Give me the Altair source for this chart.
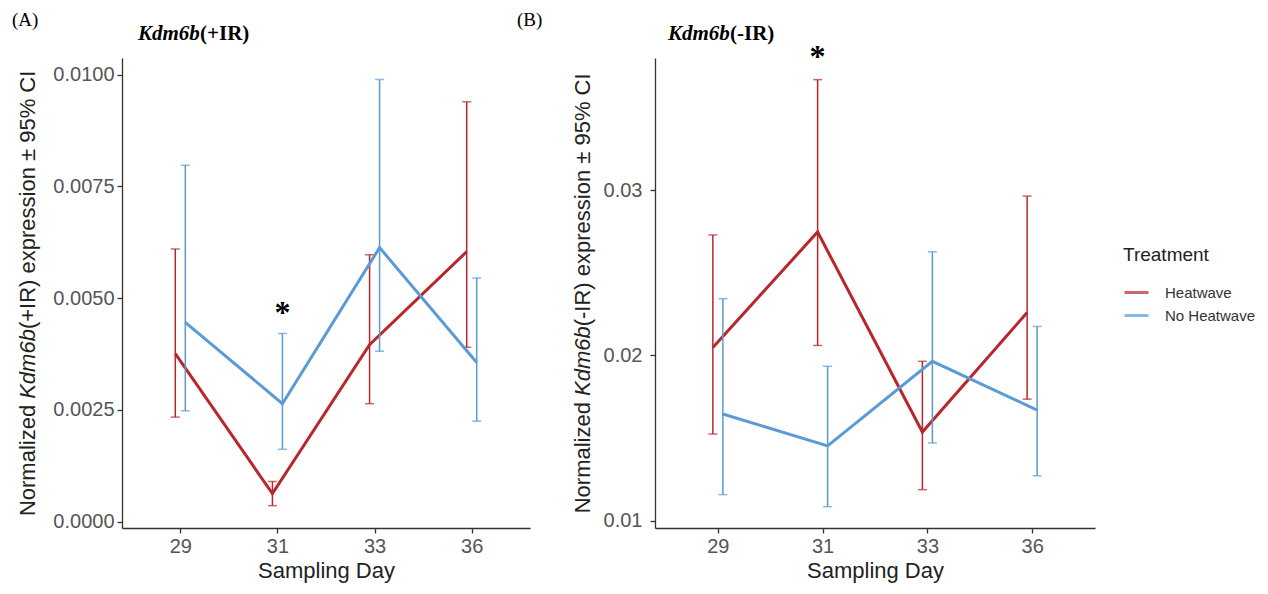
import altair as alt
import pandas as pd

days = ["29", "31", "33", "36"]
treatments = ["Heatwave", "No Heatwave"]
colors = ["#B8272C", "#5B9BD5"]

# Panel A: Kdm6b(+IR)
a_heat_mean = [0.00376, 0.00063, 0.00396, 0.00604]
a_heat_lo = [0.00234, 0.00036, 0.00264, 0.00390]
a_heat_hi = [0.00610, 0.00090, 0.00597, 0.00939]
a_noheat_mean = [0.00446, 0.00264, 0.00613, 0.00356]
a_noheat_lo = [0.00248, 0.00162, 0.00381, 0.00225]
a_noheat_hi = [0.00797, 0.00421, 0.00989, 0.00545]

# Panel B: Kdm6b(-IR)
b_heat_mean = [0.02048, 0.02747, 0.01536, 0.02259]
b_heat_lo = [0.01524, 0.02060, 0.01187, 0.01735]
b_heat_hi = [0.02729, 0.03669, 0.01964, 0.02964]
b_noheat_mean = [0.01645, 0.01452, 0.01964, 0.01669]
b_noheat_lo = [0.01157, 0.01084, 0.01470, 0.01271]
b_noheat_hi = [0.02343, 0.01934, 0.02627, 0.02175]

# significance markers
a_star_day = ["31"]
a_star_treatment = ["No Heatwave"]
a_star_value = [0.00480]
b_star_day = ["31"]
b_star_treatment = ["Heatwave"]
b_star_value = [0.03840]

a_ticks = [0.0, 0.0025, 0.005, 0.0075, 0.01]
b_ticks = [0.01, 0.02, 0.03]

panel_letters = ["(A)", "(B)"]
a_ytitle_parts = ["Normalized", "Kdm6b", "(+IR) expression ± 95% CI"]
b_ytitle_parts = ["Normalized", "Kdm6b", "(-IR) expression ± 95% CI"]


def make_df(hm, hl, hh, nm, nl, nh):
    rows = []
    for i, d in enumerate(days):
        rows.append({"day": d, "treatment": "Heatwave", "mean": hm[i], "lo": hl[i], "hi": hh[i]})
    for i, d in enumerate(days):
        rows.append({"day": d, "treatment": "No Heatwave", "mean": nm[i], "lo": nl[i], "hi": nh[i]})
    return pd.DataFrame(rows)


df_a = make_df(a_heat_mean, a_heat_lo, a_heat_hi, a_noheat_mean, a_noheat_lo, a_noheat_hi)
df_b = make_df(b_heat_mean, b_heat_lo, b_heat_hi, b_noheat_mean, b_noheat_lo, b_noheat_hi)
star_a = pd.DataFrame({"day": a_star_day, "treatment": a_star_treatment, "value": a_star_value})
star_b = pd.DataFrame({"day": b_star_day, "treatment": b_star_treatment, "value": b_star_value})

offsets = {"Heatwave": -5, "No Heatwave": 5}


def panel(df, star, domain, ticks, fmt, width, height, ytitle_parts, ytitle_x, ytitle_y,
          letters, gene, suffix, show_legend, label_pad, gene_x, suffix_x):
    x = alt.X("day:O", sort=days,
              scale=alt.Scale(type="point", padding=0.6),
              axis=alt.Axis(title="Sampling Day", labelAngle=0))
    yscale = alt.Scale(domain=domain, nice=False, zero=False)
    if show_legend:
        leg = alt.Legend(title="Treatment", orient="none", legendX=468, legendY=188,
                         symbolType="stroke", symbolStrokeWidth=3, symbolSize=576,
                         labelFontSize=15, titleFontSize=19, titleFontWeight="normal",
                         labelFont="Liberation Sans", titleFont="Liberation Sans",
                         labelColor="#333333", titleColor="#222222",
                         titlePadding=14, labelOffset=15, rowPadding=1)
    else:
        leg = None
    color = alt.Color("treatment:N", scale=alt.Scale(domain=treatments, range=colors), legend=leg)
    layers = []
    for t in treatments:
        off = offsets[t]
        sub = alt.Chart(df).transform_filter(alt.datum.treatment == t)
        layers.append(sub.mark_rule(strokeWidth=1.5, xOffset=off).encode(
            x=x,
            y=alt.Y("lo:Q", scale=yscale,
                    axis=alt.Axis(title=None, values=ticks, format=fmt, labelPadding=label_pad)),
            y2="hi:Q", color=color))
        layers.append(sub.mark_tick(thickness=1.5, size=9, xOffset=off).encode(
            x=x, y=alt.Y("lo:Q", scale=yscale), color=color))
        layers.append(sub.mark_tick(thickness=1.5, size=9, xOffset=off).encode(
            x=x, y=alt.Y("hi:Q", scale=yscale), color=color))
        layers.append(sub.mark_line(strokeWidth=3, xOffset=off).encode(
            x=x, y=alt.Y("mean:Q", scale=yscale), color=color))
    for t in treatments:
        s = alt.Chart(star).transform_filter(alt.datum.treatment == t).mark_text(
            text="*", fontSize=32, font="Liberation Serif", fontWeight="bold",
            color="black", baseline="middle", dy=6, xOffset=offsets[t]).encode(
            x=x, y=alt.Y("value:Q", scale=yscale))
        layers.append(s)
    # y-axis title built from parts so the gene name can be italic
    tdf = pd.DataFrame({"t": ytitle_parts})
    for i, part in enumerate(ytitle_parts):
        layers.append(alt.Chart(tdf).transform_filter(alt.datum.t == part).mark_text(
            font="Liberation Sans", fontSize=22, angle=270, align="left", baseline="middle",
            color="#222222", fontStyle="italic" if i == 1 else "normal").encode(
            text="t:N", x=alt.value(ytitle_x), y=alt.value(ytitle_y[i])))
    for lt, lx in letters:
        ld = pd.DataFrame({"letter": [lt]})
        layers.append(alt.Chart(ld).mark_text(
            font="Liberation Serif", fontSize=19, align="left", baseline="middle", color="black").encode(
            text="letter:N", x=alt.value(lx), y=alt.value(-38)))
    head = pd.DataFrame({"gene": [gene], "suffix": [suffix]})
    layers.append(alt.Chart(head).mark_text(
        font="Liberation Serif", fontSize=21, fontWeight="bold", fontStyle="italic",
        align="left", baseline="middle", color="black").encode(
        text="gene:N", x=alt.value(gene_x), y=alt.value(-24)))
    layers.append(alt.Chart(head).mark_text(
        font="Liberation Serif", fontSize=21, fontWeight="bold",
        align="left", baseline="middle", color="black").encode(
        text="suffix:N", x=alt.value(suffix_x), y=alt.value(-24)))
    return alt.layer(*layers).properties(width=width, height=height)


pa = panel(df_a, star_a, [-0.00014, 0.01037], a_ticks, ".4f", 408, 470,
           a_ytitle_parts, -94, [458.1, 340.8, 271.1],
           [(panel_letters[0], -110), (panel_letters[1], 395)], "Kdm6b", "(+IR)",
           False, 3, 16, 78)
pb = panel(df_b, star_b, [0.00955, 0.0380], b_ticks, ".2f", 440, 470,
           b_ytitle_parts, -72, [455.3, 338.0, 268.3], [], "Kdm6b", "(-IR)",
           True, 8, 13, 75)

chart = alt.hconcat(pa, pb, spacing=28).resolve_legend(color="independent").properties(
    padding={"left": 12, "top": 11, "right": 5, "bottom": 5}, background="white"
).configure_view(stroke=None).configure_axis(
    grid=False, domainColor="#333333", domainWidth=1.3, tickColor="#333333", tickWidth=1.3,
    tickSize=5, labelFont="Liberation Sans", labelFontSize=20, labelColor="#555555",
    labelPadding=3, titleFont="Liberation Sans", titleFontSize=22, titleFontWeight="normal",
    titleColor="#222222"
).configure_axisX(titlePadding=4)

chart.save("out.html", embed_options={"renderer": "svg", "actions": False})
